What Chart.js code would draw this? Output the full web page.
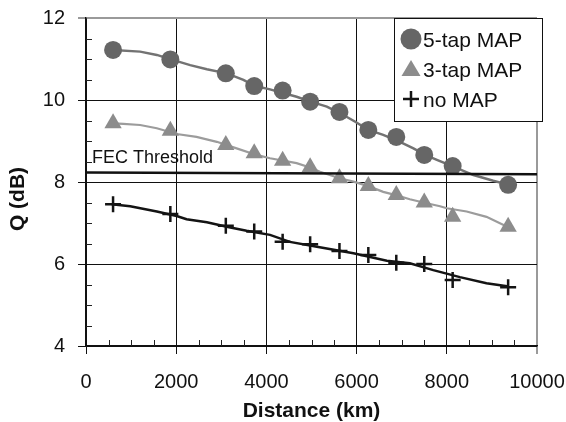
<!DOCTYPE html>
<html>
<head>
<meta charset="utf-8">
<script src="https://cdn.jsdelivr.net/npm/chart.js@4/dist/chart.umd.min.js"></script>
<style>
html,body{margin:0;padding:0;background:#fff;}
canvas{display:block;}
</style>
</head>
<body>
<canvas id="c" width="566" height="422"></canvas>
<script>
// ---- data ----
const distances = [600, 1870, 3100, 3730, 4360, 4970, 5620, 6260, 6880, 7500, 8130, 9360];
const q5tap = [11.22, 10.99, 10.65, 10.34, 10.23, 9.96, 9.71, 9.27, 9.10, 8.66, 8.39, 7.93];
const q3tap = [9.43, 9.25, 8.90, 8.70, 8.52, 8.36, 8.09, 7.90, 7.68, 7.50, 7.15, 6.91];
const qNoMap = [7.46, 7.22, 6.93, 6.79, 6.54, 6.48, 6.32, 6.22, 6.03, 6.00, 5.61, 5.43];

const fit5X = [600, 1200, 1570, 1885, 2310, 2680, 3120, 3490, 3750, 4080, 4670, 4980, 5340, 5650, 5970, 6260, 6590, 6960, 7260, 7520, 7780, 8160, 8590, 9030, 9380];
const fit5Y = [11.22, 11.18, 11.10, 10.99, 10.85, 10.75, 10.65, 10.49, 10.34, 10.26, 10.08, 9.96, 9.84, 9.67, 9.47, 9.27, 9.15, 8.98, 8.82, 8.66, 8.54, 8.37, 8.17, 8.03, 7.93];
const fit3X = [600, 830, 1200, 1570, 2010, 2450, 2900, 3340, 3780, 4080, 4670, 4950, 5190, 5620, 5930, 6260, 6590, 6870, 7180, 7480, 7850, 8000, 8440, 8880, 9340];
const fit3Y = [9.43, 9.42, 9.39, 9.31, 9.17, 9.10, 8.98, 8.82, 8.66, 8.58, 8.46, 8.36, 8.25, 8.09, 8.01, 7.90, 7.76, 7.68, 7.58, 7.50, 7.41, 7.36, 7.28, 7.15, 6.91];
const fitNoX = [570, 980, 1570, 2010, 2230, 2680, 3120, 3560, 4080, 4520, 5120, 5930, 6670, 7180, 7700, 8290, 8880, 9340];
const fitNoY = [7.46, 7.41, 7.28, 7.17, 7.09, 7.02, 6.91, 6.81, 6.71, 6.54, 6.42, 6.26, 6.08, 6.02, 5.85, 5.68, 5.53, 5.46];

const thresholdX = [0, 10000];
const thresholdY = [8.23, 8.19];
const thresholdLabel = 'FEC Threshold';

const seriesLabels = ['5-tap MAP', '3-tap MAP', 'no MAP'];
const xTicks = [0, 2000, 4000, 6000, 8000, 10000];
const yTicks = [4, 6, 8, 10, 12];
const xTitle = 'Distance (km)';
const yTitle = 'Q (dB)';

// ---- helpers ----
const pts = (xs, ys) => xs.map((x, i) => ({x: x, y: ys[i]}));
const FONT = "'Liberation Sans', Arial, Helvetica, sans-serif";
const C5 = '#666666', C5L = '#737373';
const C3 = '#8c8c8c', C3L = '#9c9c9c';
const CN = '#141414';

const minorTicks = {
  id: 'minorTicks',
  beforeDatasetsDraw(chart) {
    const {ctx, chartArea: a, scales: {x, y}} = chart;
    ctx.save();
    ctx.strokeStyle = '#222';
    ctx.lineWidth = 1;
    ctx.beginPath();
    for (let v = y.min + 0.5; v < y.max; v += 0.5) {
      if (Math.abs(v % 2) < 1e-6) continue;
      const py = Math.round(y.getPixelForValue(v)) + 0.5;
      ctx.moveTo(a.left, py); ctx.lineTo(a.left + 6, py);
    }
    for (let v = x.min + 500; v < x.max; v += 500) {
      if (v % 2000 === 0) continue;
      const px = Math.round(x.getPixelForValue(v)) + 0.5;
      ctx.moveTo(px, a.bottom); ctx.lineTo(px, a.bottom - 6);
    }
    ctx.stroke();
    ctx.fillStyle = '#111';
    ctx.font = '18px ' + FONT;
    ctx.textBaseline = 'alphabetic';
    ctx.textAlign = 'left';
    ctx.fillText(thresholdLabel, x.getPixelForValue(0) + 6, y.getPixelForValue(thresholdY[0]) - 9.5);
    ctx.restore();
  }
};

const yTitlePlugin = {
  id: 'yTitlePlugin',
  afterDraw(chart) {
    const {ctx, chartArea: a} = chart;
    ctx.save();
    ctx.translate(18, (a.top + a.bottom) / 2 + 17);
    ctx.rotate(-Math.PI / 2);
    ctx.font = 'bold 21px ' + FONT;
    ctx.fillStyle = '#111';
    ctx.textAlign = 'center';
    ctx.textBaseline = 'middle';
    ctx.fillText(yTitle, 0, 0);
    ctx.restore();
  }
};

const legendBox = {
  id: 'legendBox',
  afterDraw(chart) {
    const {ctx, chartArea: a} = chart;
    const bx = a.right - 143, by = a.top, bw = 148, bh = 103;
    ctx.save();
    ctx.fillStyle = '#fff';
    ctx.fillRect(bx, by, bw, bh);
    ctx.strokeStyle = '#111';
    ctx.lineWidth = 1;
    ctx.strokeRect(bx + 0.5, by + 0.5, bw, bh);
    ctx.font = '21px ' + FONT;
    ctx.textBaseline = 'alphabetic';
    ctx.textAlign = 'left';
    const mx = bx + 17, tx = bx + 29;
    const rows = [by + 21, by + 51, by + 81];
    ctx.fillStyle = C5;
    ctx.beginPath(); ctx.arc(mx, rows[0], 10.5, 0, Math.PI * 2); ctx.fill();
    ctx.fillStyle = C3;
    ctx.beginPath();
    ctx.moveTo(mx, rows[1] - 9); ctx.lineTo(mx + 9.5, rows[1] + 7); ctx.lineTo(mx - 9.5, rows[1] + 7); ctx.closePath(); ctx.fill();
    ctx.strokeStyle = CN; ctx.lineWidth = 2.5;
    ctx.beginPath();
    ctx.moveTo(mx - 8, rows[2]); ctx.lineTo(mx + 8, rows[2]);
    ctx.moveTo(mx, rows[2] - 8); ctx.lineTo(mx, rows[2] + 8);
    ctx.stroke();
    ctx.fillStyle = '#111';
    seriesLabels.forEach((t, i) => ctx.fillText(t, tx, rows[i] + 7.5));
    ctx.restore();
  }
};

new Chart(document.getElementById('c'), {
  type: 'scatter',
  data: {
    datasets: [
      {label: 'threshold', data: pts(thresholdX, thresholdY), showLine: true, pointRadius: 0,
       borderColor: '#111', borderWidth: 2.5, order: 0},
      {label: seriesLabels[0], data: pts(distances, q5tap), showLine: false, pointStyle: 'circle',
       pointRadius: 9, backgroundColor: C5, borderColor: C5, pointBorderWidth: 0, order: 3},
      {label: seriesLabels[1], data: pts(distances, q3tap), showLine: false, pointStyle: 'triangle',
       pointRadius: 10, backgroundColor: C3, borderColor: C3, pointBorderWidth: 0, order: 2},
      {label: seriesLabels[2], data: pts(distances, qNoMap), showLine: false, pointStyle: 'cross',
       pointRadius: 8, borderColor: CN, pointBorderWidth: 2.5, order: 1},
      {label: 'fit5', data: pts(fit5X, fit5Y), showLine: true, pointRadius: 0,
       borderColor: C5L, borderWidth: 2.5, order: 5},
      {label: 'fit3', data: pts(fit3X, fit3Y), showLine: true, pointRadius: 0,
       borderColor: C3L, borderWidth: 2.2, order: 6},
      {label: 'fitNo', data: pts(fitNoX, fitNoY), showLine: true, pointRadius: 0,
       borderColor: CN, borderWidth: 2.5, order: 7}
    ]
  },
  options: {
    responsive: false,
    animation: false,
    events: [],
    layout: {padding: {top: 18, right: 29, left: 0, bottom: 0}},
    plugins: {legend: {display: false}, tooltip: {enabled: false}},
    scales: {
      x: {
        type: 'linear', min: 0, max: 10000,
        afterFit(s) { s.height = 76; s.paddingLeft = 0; s.paddingRight = 0; },
        afterBuildTicks(s) { s.ticks = xTicks.map(v => ({value: v})); },
        ticks: {font: {family: FONT, size: 20}, color: '#111', padding: 16, maxRotation: 0,
                callback: v => String(v)},
        grid: {
          color: c => (c.tick && c.tick.value === 10000) ? '#9a9a9a' : '#111',
          lineWidth: c => (c.tick && c.tick.value === 10000) ? 2 : 1,
          tickLength: 8
        },
        border: {color: '#111', width: 1.5},
        title: {display: true, text: xTitle, color: '#111',
                font: {family: FONT, size: 21, weight: 'bold', lineHeight: 1},
                padding: {top: 0, bottom: 0}}
      },
      y: {
        type: 'linear', min: 4, max: 12,
        afterFit(s) { s.width = 86; s.paddingTop = 0; s.paddingBottom = 0; },
        afterBuildTicks(s) { s.ticks = yTicks.map(v => ({value: v})); },
        ticks: {font: {family: FONT, size: 20}, color: '#111', padding: 13,
                callback: v => String(v)},
        grid: {
          color: c => (c.tick && c.tick.value === 12) ? '#9a9a9a' : '#111',
          lineWidth: c => (c.tick && c.tick.value === 12) ? 2 : 1,
          tickLength: 8
        },
        border: {color: '#111', width: 1.5}
      }
    }
  },
  plugins: [minorTicks, yTitlePlugin, legendBox]
});
</script>
</body>
</html>
